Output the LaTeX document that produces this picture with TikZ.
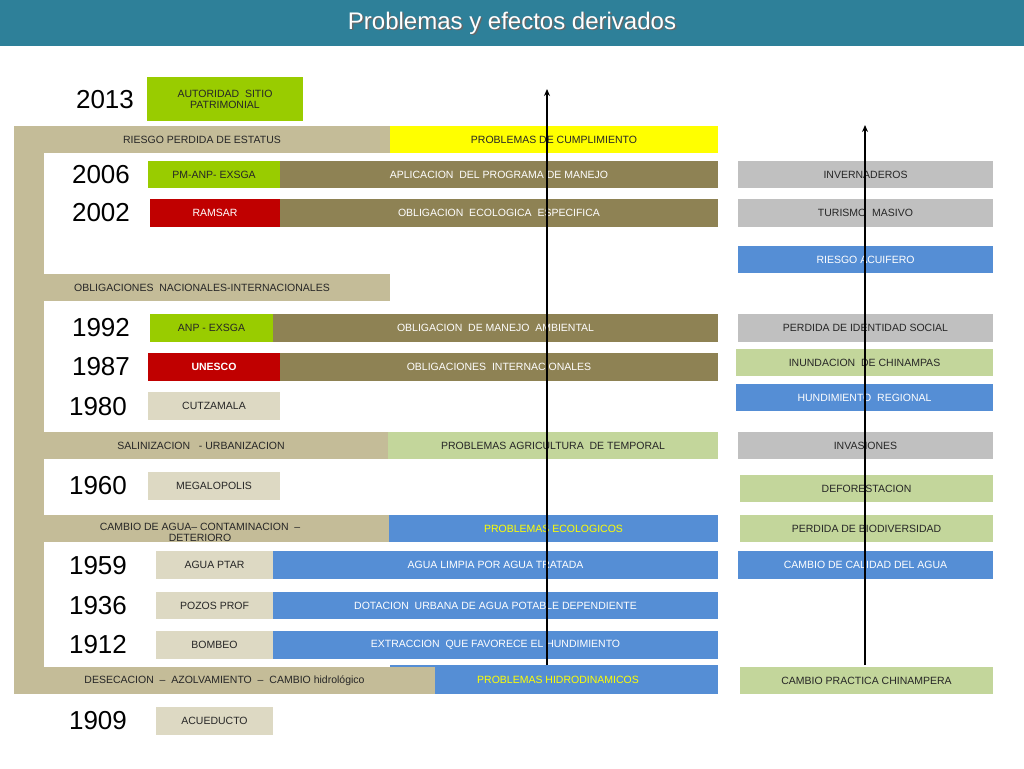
\documentclass[tikz,border=0pt]{standalone}
\usepackage{fontspec}
\setmainfont{Liberation Sans}
\definecolor{teal}{HTML}{2E8099}
\definecolor{olive}{HTML}{8E8254}
\definecolor{lgreen}{HTML}{99CC00}
\definecolor{dred}{HTML}{C00000}
\definecolor{blu}{HTML}{558ED5}
\definecolor{gry}{HTML}{C0C0C0}
\definecolor{pgreen}{HTML}{C3D69B}
\definecolor{band}{HTML}{C4BC98}
\definecolor{tanb}{HTML}{DDD9C3}
\definecolor{yel}{HTML}{FFFF00}
\tikzset{
 bx/.style={inner sep=0pt,outer sep=0pt,anchor=north west,font=\fontsize{10.5}{11}\selectfont,align=center},
 wt/.style={bx,text=white},
 dk/.style={bx,text=black!85},
 yr/.style={font=\fontsize{26}{28}\selectfont,inner sep=0pt},
 arr/.style={-{Stealth[length=7pt,width=6pt]},line width=1.2pt}
}
\usetikzlibrary{arrows.meta}
% name, x1, y1, x2, y2, style, text
\newcommand\bx[7]{\node[#6,minimum width=#4pt-#2pt,minimum height=#5pt-#3pt] (#1) at (#2,#3) {#7};}
\begin{document}
\begin{tikzpicture}[x=1pt,y=-1pt]
\useasboundingbox (0,0) rectangle (1024,768);
\fill[white] (0,0) rectangle (1024,768);
% title
\fill[teal] (0,0) rectangle (1024,46);
\node[text=black!60,font=\fontsize{24}{26}\selectfont] at (513.5,24.5) {Problemas y efectos derivados};
\node[text=white,font=\fontsize{24}{26}\selectfont] (title) at (512,23) {Problemas y efectos derivados};
% bracket
\fill[band] (14,126) rectangle (44,694);
\bx{riesgo}{14}{126}{390}{153}{dk,fill=band}{RIESGO PERDIDA DE ESTATUS}
\bx{cumpl}{390}{126}{718}{153}{dk,fill=yel}{PROBLEMAS DE CUMPLIMIENTO}
\bx{oblig}{14}{274}{390}{301}{dk,fill=band}{OBLIGACIONES\ \ NACIONALES-INTERNACIONALES}
\bx{salin}{14}{432}{388}{459}{dk,fill=band}{SALINIZACION\ \ \ -\ URBANIZACION}
\bx{agric}{388}{432}{718}{459}{dk,fill=pgreen}{PROBLEMAS AGRICULTURA\ \ DE TEMPORAL}
\bx{cambio}{14}{515}{389}{542}{dk,fill=band}{}
\node[dk,anchor=north,align=center] (cambiot) at (200,523) {CAMBIO DE AGUA-- CONTAMINACION \ --\\DETERIORO};
\bx{ecol}{389}{515}{718}{542}{bx,fill=blu,text=yel}{PROBLEMAS ECOLOGICOS}
\bx{hidro}{390}{665}{718}{694}{bx,fill=blu,text=yel}{\hspace*{8pt}PROBLEMAS HIDRODINAMICOS}
\bx{desec}{14}{667}{435}{694}{dk,fill=band}{DESECACION\ \ --\ \ AZOLVAMIENTO\ \ --\ \ CAMBIO hidrológico}
% rows
\node[yr] (y2013) at (105,100) {2013};
\bx{aut}{147}{77}{303}{121}{dk,fill=lgreen}{AUTORIDAD\ \ SITIO\\PATRIMONIAL}
\node[yr] (y2006) at (101,175) {2006};
\bx{pm}{148}{161}{280}{188}{dk,fill=lgreen}{PM-ANP- EXSGA}
\bx{apl}{280}{161}{718}{188}{wt,fill=olive}{APLICACION\ \ DEL PROGRAMA DE MANEJO}
\node[yr] (y2002) at (101,213) {2002};
\bx{ram}{150}{199}{280}{227}{wt,fill=dred}{RAMSAR}
\bx{oec}{280}{199}{718}{227}{wt,fill=olive}{OBLIGACION\ \ ECOLOGICA\ \ ESPECIFICA}
\node[yr] (y1992) at (101,328) {1992};
\bx{anp}{150}{314}{273}{342}{dk,fill=lgreen}{ANP\ -\ EXSGA}
\bx{oma}{273}{314}{718}{342}{wt,fill=olive}{OBLIGACION\ \ DE MANEJO\ \ AMBIENTAL}
\node[yr] (y1987) at (101,367) {1987};
\bx{une}{148}{353}{280}{381}{wt,fill=dred}{\textbf{UNESCO}}
\bx{oint}{280}{353}{718}{381}{wt,fill=olive}{OBLIGACIONES\ \ INTERNACIONALES}
\node[yr] (y1980) at (98,407) {1980};
\bx{cut}{148}{392}{280}{420}{dk,fill=tanb}{CUTZAMALA}
\node[yr] (y1960) at (98,486) {1960};
\bx{meg}{148}{472}{280}{500}{dk,fill=tanb}{MEGALOPOLIS}
\node[yr] (y1959) at (98,566) {1959};
\bx{ptar}{156}{551}{273}{579}{dk,fill=tanb}{AGUA PTAR}
\bx{limp}{273}{551}{718}{579}{wt,fill=blu}{AGUA LIMPIA POR AGUA TRATADA}
\node[yr] (y1936) at (98,606) {1936};
\bx{pozo}{156}{592}{273}{619}{dk,fill=tanb}{POZOS PROF}
\bx{dot}{273}{592}{718}{619}{wt,fill=blu}{DOTACION\ \ URBANA DE AGUA POTABLE DEPENDIENTE}
\node[yr] (y1912) at (98,645) {1912};
\bx{bomb}{156}{631}{273}{659}{dk,fill=tanb}{BOMBEO}
\bx{extr}{273}{631}{718}{659}{wt,fill=blu}{EXTRACCION\ \ QUE FAVORECE EL HUNDIMIENTO}
\node[yr] (y1909) at (98,721) {1909};
\bx{acue}{156}{707}{273}{735}{dk,fill=tanb}{ACUEDUCTO}
% right column
\bx{inv}{738}{161}{993}{188}{dk,fill=gry}{INVERNADEROS}
\bx{tur}{738}{199}{993}{227}{dk,fill=gry}{TURISMO\ \ MASIVO}
\bx{acuif}{738}{246}{993}{273}{wt,fill=blu}{RIESGO ACUIFERO}
\bx{ident}{738}{314}{993}{342}{dk,fill=gry}{PERDIDA DE IDENTIDAD SOCIAL}
\bx{inund}{736}{349}{993}{376}{dk,fill=pgreen}{INUNDACION\ \ DE CHINAMPAS}
\bx{hund}{736}{384}{993}{411}{wt,fill=blu}{HUNDIMIENTO\ \ REGIONAL}
\bx{invas}{738}{432}{993}{459}{dk,fill=gry}{INVASIONES}
\bx{defor}{740}{475}{993}{502}{dk,fill=pgreen}{DEFORESTACION}
\bx{biod}{740}{515}{993}{542}{dk,fill=pgreen}{PERDIDA DE BIODIVERSIDAD}
\bx{calid}{738}{551}{993}{579}{wt,fill=blu}{CAMBIO DE CALIDAD DEL AGUA}
\bx{chin}{740}{667}{993}{694}{dk,fill=pgreen}{CAMBIO PRACTICA CHINAMPERA}
% arrows
\coordinate (a1) at (547,665);
\coordinate (a2) at (547,89);
\coordinate (b1) at (865,665);
\coordinate (b2) at (865,125);
\draw[arr] (a1) -- (a2);
\draw[arr] (b1) -- (b2);
\end{tikzpicture}
\end{document}
